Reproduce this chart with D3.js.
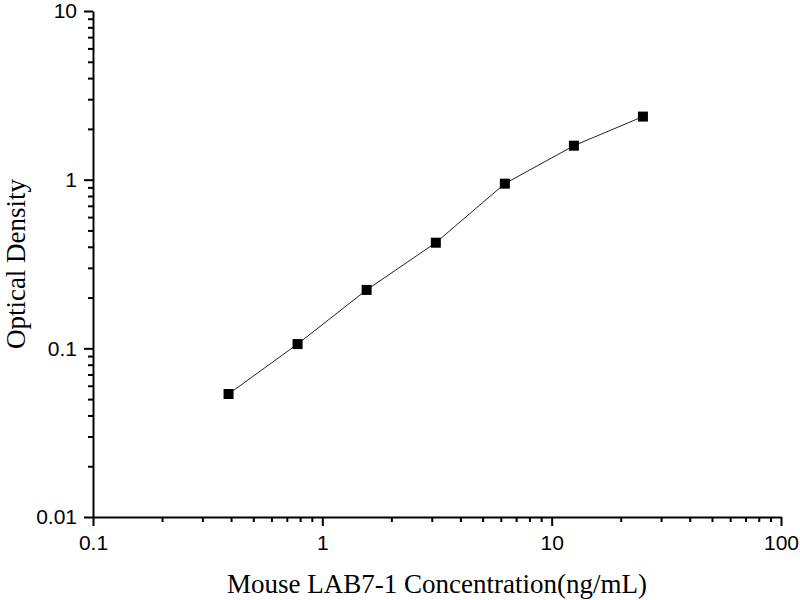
<!DOCTYPE html>
<html>
<head>
<meta charset="utf-8">
<script src="https://cdn.jsdelivr.net/npm/d3@7"></script>
<style>
  body { margin: 0; background: #fff; }
  .tick text { font-family: "Liberation Sans", Arial, sans-serif; font-size: 21px; fill: #000; }
  .axis-title { font-family: "Liberation Serif", "Times New Roman", serif; font-size: 27px; fill: #000; }
</style>
</head>
<body>
<div id="chart"></div>
<script>
// standard curve data
const concentration = [0.39, 0.78, 1.56, 3.125, 6.25, 12.5, 25];
const opticalDensity = [0.0536, 0.106, 0.222, 0.423, 0.947, 1.59, 2.366];

const xTicks = [0.1, 1, 10, 100];
const xTickLabels = ["0.1", "1", "10", "100"];
const yTicks = [0.01, 0.1, 1, 10];
const yTickLabels = ["0.01", "0.1", "1", "10"];

const xTitle = "Mouse LAB7-1 Concentration(ng/mL)";
const yTitle = "Optical Density";

const width = 800, height = 600;
const margin = {top: 11, right: 19, bottom: 83, left: 93};
const innerW = width - margin.left - margin.right;
const innerH = height - margin.top - margin.bottom;

const svg = d3.select("#chart").append("svg")
    .attr("width", width)
    .attr("height", height);

const g = svg.append("g")
    .attr("transform", `translate(${margin.left},${margin.top})`);

const x = d3.scaleLog().domain([0.1, 100]).range([0, innerW]);
const y = d3.scaleLog().domain([0.01, 10]).range([innerH, 0]);

// minor ticks 2..9 in every decade
function minors(domain) {
    let out = [];
    for (let p = Math.log10(domain[0]); p < Math.log10(domain[1]); p++) {
        for (let k = 2; k <= 9; k++) out.push(k * Math.pow(10, p));
    }
    return out;
}

// x axis
g.append("g")
    .attr("transform", `translate(0,${innerH})`)
    .call(d3.axisBottom(x).tickValues(minors(x.domain())).tickSize(5).tickSizeOuter(0).tickFormat(""))
    .call(a => a.select(".domain").remove())
    .selectAll("line").attr("stroke", "#000").attr("stroke-width", 2);

const xAxis = g.append("g")
    .attr("transform", `translate(0,${innerH})`)
    .call(d3.axisBottom(x).tickValues(xTicks).tickSize(9).tickPadding(9).tickSizeOuter(0)
        .tickFormat((d, i) => xTickLabels[i]));
xAxis.select(".domain").attr("stroke", "#000").attr("stroke-width", 2);
xAxis.selectAll("line").attr("stroke", "#000").attr("stroke-width", 2);

// y axis
g.append("g")
    .call(d3.axisLeft(y).tickValues(minors(y.domain())).tickSize(5).tickSizeOuter(0).tickFormat(""))
    .call(a => a.select(".domain").remove())
    .selectAll("line").attr("stroke", "#000").attr("stroke-width", 2);

const yAxis = g.append("g")
    .call(d3.axisLeft(y).tickValues(yTicks).tickSize(9).tickPadding(7).tickSizeOuter(0)
        .tickFormat((d, i) => yTickLabels[i]));
yAxis.select(".domain").attr("stroke", "#000").attr("stroke-width", 2);
yAxis.selectAll("line").attr("stroke", "#000").attr("stroke-width", 2);

// fitted curve (near-straight between standards)
const pts = concentration.map((c, i) => [c, opticalDensity[i]]);
const line = d3.line()
    .x(d => x(d[0]))
    .y(d => y(d[1]))
    .curve(d3.curveLinear);

g.append("path")
    .datum(pts)
    .attr("fill", "none")
    .attr("stroke", "#222")
    .attr("stroke-width", 1)
    .attr("d", line);

// markers
const sz = 10;
g.selectAll("rect.pt")
    .data(pts)
    .enter()
    .append("rect")
    .attr("class", "pt")
    .attr("x", d => x(d[0]) - sz / 2)
    .attr("y", d => y(d[1]) - sz / 2)
    .attr("width", sz)
    .attr("height", sz)
    .attr("fill", "#000");

// axis titles
svg.append("text")
    .attr("class", "axis-title")
    .attr("x", margin.left + innerW / 2)
    .attr("y", 593)
    .attr("text-anchor", "middle")
    .text(xTitle);

svg.append("text")
    .attr("class", "axis-title")
    .attr("transform", `translate(25,${margin.top + innerH / 2}) rotate(-90)`)
    .attr("text-anchor", "middle")
    .text(yTitle);
</script>
</body>
</html>
